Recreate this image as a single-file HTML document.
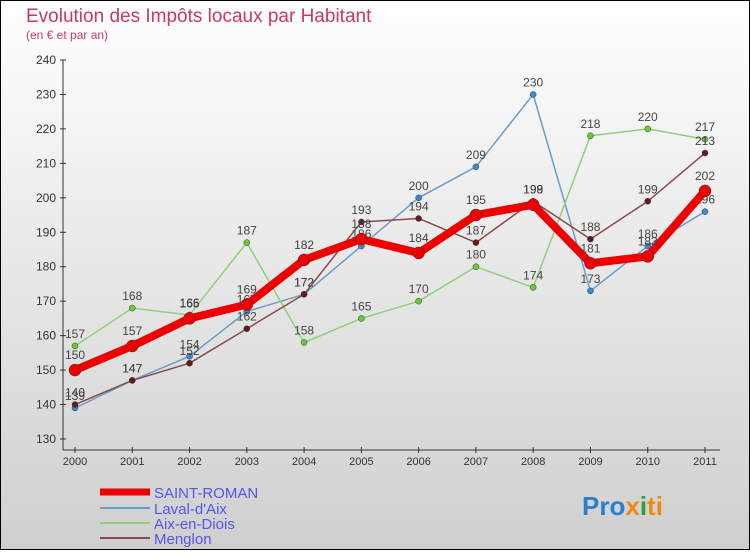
<!DOCTYPE html>
<html><head><meta charset="utf-8"><style>
html,body{margin:0;padding:0}
body{width:750px;height:550px;overflow:hidden;font-family:"Liberation Sans",sans-serif}
</style></head><body>
<svg width="750" height="550" xmlns="http://www.w3.org/2000/svg" id="svg">
<defs><linearGradient id="bg" x1="0" y1="0" x2="0" y2="1"><stop offset="0" stop-color="#ffffff"/><stop offset="1" stop-color="#cfcfcf"/></linearGradient></defs>
<rect x="0.5" y="0.5" width="749" height="549" fill="url(#bg)" stroke="#000"/>
<text x="26" y="22" font-size="19" fill="#c8386a">Evolution des Impôts locaux par Habitant</text>
<text x="26" y="39" font-size="12" fill="#c8386a">(en € et par an)</text>
<g id="axes"></g><g id="series"></g>
<g font-size="15" fill="#5555ee">
<line x1="100" y1="492" x2="150" y2="492" stroke="#ee0000" stroke-width="7"/><text x="154" y="498" fill="#5555ee">SAINT-ROMAN</text>
<line x1="100" y1="508" x2="150" y2="508" stroke="#6a9ccb" stroke-width="2"/><text x="154" y="514" fill="#5555ee">Laval-d'Aix</text>
<line x1="100" y1="523" x2="150" y2="523" stroke="#8fd07a" stroke-width="2"/><text x="154" y="529" fill="#5555ee">Aix-en-Diois</text>
<line x1="100" y1="538" x2="150" y2="538" stroke="#8a4a4a" stroke-width="2"/><text x="154" y="544" fill="#5555ee">Menglon</text>
</g>
<text x="582" y="515" font-size="26" font-weight="bold"><tspan fill="#2a7fd0">Pro</tspan><tspan fill="#ee8a10">x</tspan><tspan fill="#2aa040">i</tspan><tspan fill="#ee8a10">ti</tspan></text>
</svg>
<script>
const years=["2000","2001","2002","2003","2004","2005","2006","2007","2008","2009","2010","2011"];
const yTicks=[130,140,150,160,170,180,190,200,210,220,230,240];
const saintRoman=[150,157,165,169,182,188,184,195,198,181,183,202];
const lavalDAix=[139,147,154,167,172,186,200,209,230,173,186,196];
const aixEnDiois=[157,168,166,187,158,165,170,180,174,218,220,217];
const menglon=[140,147,152,162,172,193,194,187,199,188,199,213];
const NS="http://www.w3.org/2000/svg";
const xs=i=>75+i*(630/11);
const ys=v=>439-(v-130)*(379/110);
function mk(t,a,p){const e=document.createElementNS(NS,t);for(const k in a)e.setAttribute(k,a[k]);p.appendChild(e);return e;}
const ax=document.getElementById('axes');
const yl=mk('line',{x1:63,y1:60,x2:63,y2:450,stroke:'#333'},ax);


const xl=mk('line',{x1:63,y1:450,x2:720,y2:450,stroke:'#333'},ax);


yTicks.forEach(v=>{
 mk('line',{x1:60,y1:ys(v),x2:66,y2:ys(v),stroke:'#333'},ax);
 const t=mk('text',{x:56,y:ys(v)+4,'text-anchor':'end','font-size':12,fill:'#333'},ax);t.textContent=v;
 
 
});
years.forEach((y,i)=>{
 mk('line',{x1:xs(i),y1:447,x2:xs(i),y2:453,stroke:'#333'},ax);
 const t=mk('text',{x:xs(i),y:465,'text-anchor':'middle','font-size':11,fill:'#333'},ax);t.textContent=y;
 
 
});
const sg=document.getElementById('series');
function draw(name,d,color,w,r,dot){
 const g=mk('g',{},sg);
 
 
 mk('polyline',{points:d.map((v,i)=>xs(i)+','+ys(v)).join(' '),fill:'none',stroke:color,'stroke-width':w,'stroke-linejoin':'round'},g);
 d.forEach((v,i)=>{
  const c=mk('circle',{cx:xs(i),cy:ys(v),r:r,fill:dot,stroke:'#333','stroke-width':0.5},g);
  
  
  const t=mk('text',{x:xs(i),y:ys(v)-(r+5),'text-anchor':'middle','font-size':12,fill:'#444'},g);t.textContent=v;
  
  
 });
}
draw('laval-daix-series',lavalDAix,'#6a9ccb',1.5,3,'#3a8ad0');
draw('aix-en-diois-series',aixEnDiois,'#8fd07a',1.5,3,'#66cc33');
draw('menglon-series',menglon,'#8a4a4a',1.5,3,'#661a1a');
draw('saint-roman-series',saintRoman,'#ee0000',8,6,'#ee0000');
</script>
</body></html>
